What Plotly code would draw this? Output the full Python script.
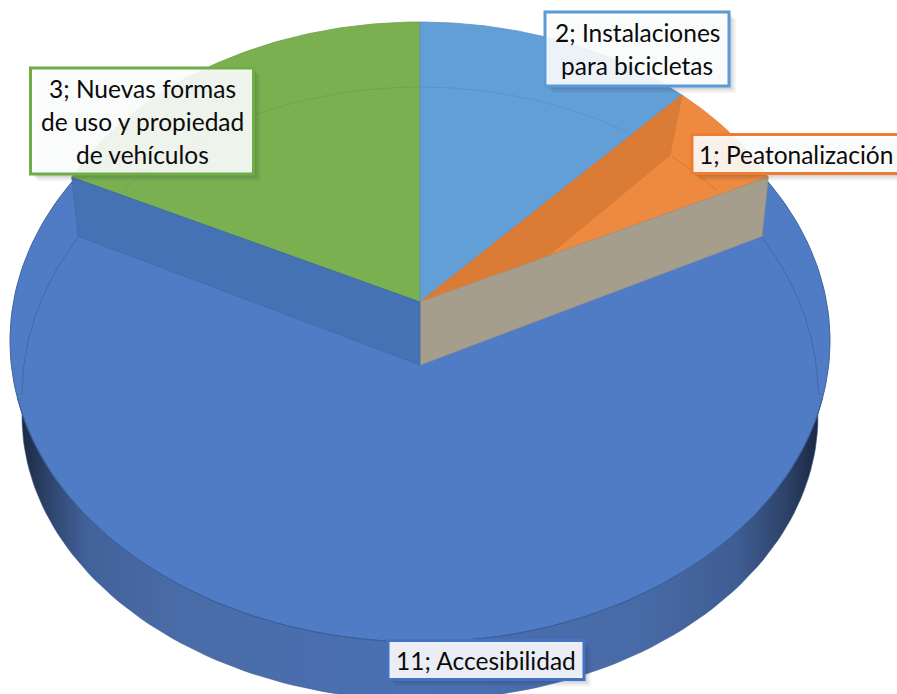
import numpy as np
import plotly.graph_objects as go

# ---- data ----
categories = ["Instalaciones para bicicletas", "Peatonalización", "Accesibilidad",
              "Nuevas formas de uso y propiedad de vehículos"]
values = [2, 1, 11, 3]
label_lines = [["2; Instalaciones", "para bicicletas"], ["1; Peatonalización"],
               ["11; Accesibilidad"], ["3; Nuevas formas", "de uso y propiedad", "de vehículos"]]
colors = ["#629fd6", "#ed8a3f", "#4f7cc4", "#7ab050"]
arc_colors = ["#5590c8", "#d4752f", "#4163a3", "#6f9f4f"]
border_colors = ["#5b9bd5", "#ed7d31", "#4472c4", "#70ad47"]

# ---- projection of the tilted pie, in page pixels ----
W, H = 897, 694
CX = 420
TOP = dict(cy=302, a=389, b=280)       # raised slices
FOOT = dict(cy=365, a=382, b=289)      # foot of the walls at the large slice
FOOT_IN = dict(cy=362, a=371, b=280)   # foot of the wall between the small slices
RIM = dict(cy=395, a=398, b=308)       # thin bevel line
FACE = dict(cy=341, a=410, b=301)      # face of the large slice
BASE = dict(cy=416, a=398, b=284)      # lower edge of the large slice

total = sum(values)
cum = np.cumsum([0] + values) / total * 2 * np.pi  # clockwise from 12 o'clock


def pt(e, ang):
    return CX + e["a"] * np.sin(ang), e["cy"] - e["b"] * np.cos(ang)


def arc(e, a0, a1, n=90):
    return pt(e, np.linspace(a0, a1, n))


def wedge(e, a0, a1):
    x, y = arc(e, a0, a1)
    return [CX, *x, CX], [e["cy"], *y, e["cy"]]


def poly(x, y, fill, line=None, width=0.8):
    return go.Scatter(x=list(x), y=list(y), mode="lines", fill="toself", fillcolor=fill,
                      line=dict(color=line or fill, width=width), hoverinfo="skip",
                      showlegend=False)


def wall(a, foot):
    tx, ty = pt(TOP, a)
    fx, fy = pt(foot, a)
    return [CX, tx, fx, CX, CX], [TOP["cy"], ty, fy, foot["cy"], TOP["cy"]]


def rim_arc(x0, x1, color):
    xs = np.linspace(x0, x1, 80)
    ys = RIM["cy"] - RIM["b"] * np.sqrt(np.clip(1 - ((xs - CX) / RIM["a"]) ** 2, 0, 1))
    return go.Scatter(x=xs, y=ys, mode="lines", line=dict(color=color, width=0.8),
                      hoverinfo="skip", showlegend=False)


a_blue, a_orange, a_green = cum[1], cum[2], cum[3]
traces = []

# side of the large slice
bx, by = arc(BASE, 0, 2 * np.pi, 240)
traces.append(go.Scatter(
    x=bx, y=by, mode="lines", fill="toself", line=dict(color="#39598f", width=0.6),
    fillgradient=dict(type="horizontal", colorscale=[
        [0, "#1b2a45"], [0.03, "#2c4167"], [0.08, "#41619a"], [0.20, "#4a6ca8"],
        [0.5, "#4a70b2"], [0.78, "#486aa6"], [0.90, "#3f5d93"], [0.96, "#2d4268"], [1, "#1a2843"]]),
    hoverinfo="skip", showlegend=False))

# face of the large slice
fx, fy = arc(FACE, 0, 2 * np.pi, 240)
traces.append(poly(fx, fy, colors[2], "#3f659f", 1))

# raised slices and the walls of the opening
traces.append(poly(*wedge(TOP, a_green, 2 * np.pi), colors[3], "#6c9f48"))
traces.append(poly(*wedge(TOP, 0, a_blue), colors[0], "#5a93c9"))
traces.append(poly(*wedge(TOP, a_blue, a_orange), colors[1], "#e07f38"))
traces.append(poly(*wall(a_blue, FOOT_IN), "#da7b36", "#d87833"))
traces.append(poly(*wall(a_orange, FOOT), "#a69e8d", "#9c9585"))
traces.append(poly(*wall(a_green, FOOT), "#4472b5", "#3f6bab"))

# bevel lines, per slice
xr = [(22, 79), (123, 420), (420, 628), (672, 717), (762, 820)]
rc = [arc_colors[2], arc_colors[3], arc_colors[0], arc_colors[1], arc_colors[2]]
for (x0, x1), c in zip(xr, rc):
    traces.append(rim_arc(x0, x1, c))

# front edge of the face
ex, ey = arc(FACE, np.pi * 0.56, np.pi * 1.44, 160)
traces.append(go.Scatter(x=ex, y=ey, mode="lines", line=dict(color="#3b5f9c", width=1),
                         hoverinfo="skip", showlegend=False))

fig = go.Figure(traces)

# labels: centre x, centre y, width, height, text centre x
label_boxes = [(637, 49, 184, 74, 637), (802, 154, 220, 39, 796),
               (486, 660, 196, 39, 486), (142, 121, 223, 106, 142)]
LINE_STEP = 33
shapes, annotations = [], []
for (cx, cy, w, h, tx), lines, bc in zip(label_boxes, label_lines, border_colors):
    for off, op in ((7, 0.05), (5, 0.07), (3, 0.09)):
        shapes.append(dict(type="rect", xref="x", yref="y", x0=cx - w / 2 + off, x1=cx + w / 2 + off,
                           y0=cy - h / 2 + off, y1=cy + h / 2 + off, layer="above",
                           fillcolor=f"rgba(30,40,60,{op})", line=dict(width=0)))
    shapes.append(dict(type="rect", xref="x", yref="y", x0=cx - w / 2, x1=cx + w / 2,
                       y0=cy - h / 2, y1=cy + h / 2, layer="above",
                       fillcolor="rgba(255,255,255,0.89)", line=dict(color=bc, width=3)))
    for i, line in enumerate(lines):
        ly = cy + (i - (len(lines) - 1) / 2) * LINE_STEP
        annotations.append(dict(x=tx, y=ly, xref="x", yref="y", text=line, showarrow=False,
                                xanchor="center", yanchor="middle", align="center",
                                font=dict(family="Lato, Carlito, sans-serif", size=24.5, color="#0b0b0b")))

fig.update_layout(
    width=W, height=H, margin=dict(l=0, r=0, t=0, b=0),
    paper_bgcolor="white", plot_bgcolor="white", showlegend=False,
    xaxis=dict(range=[0, W], visible=False, fixedrange=True),
    yaxis=dict(range=[H, 0], visible=False, fixedrange=True),
    shapes=shapes, annotations=annotations,
)
fig.write_html("out.html", config=dict(displayModeBar=False),
               post_script="document.body.style.margin='0';document.documentElement.style.overflow='hidden';")
